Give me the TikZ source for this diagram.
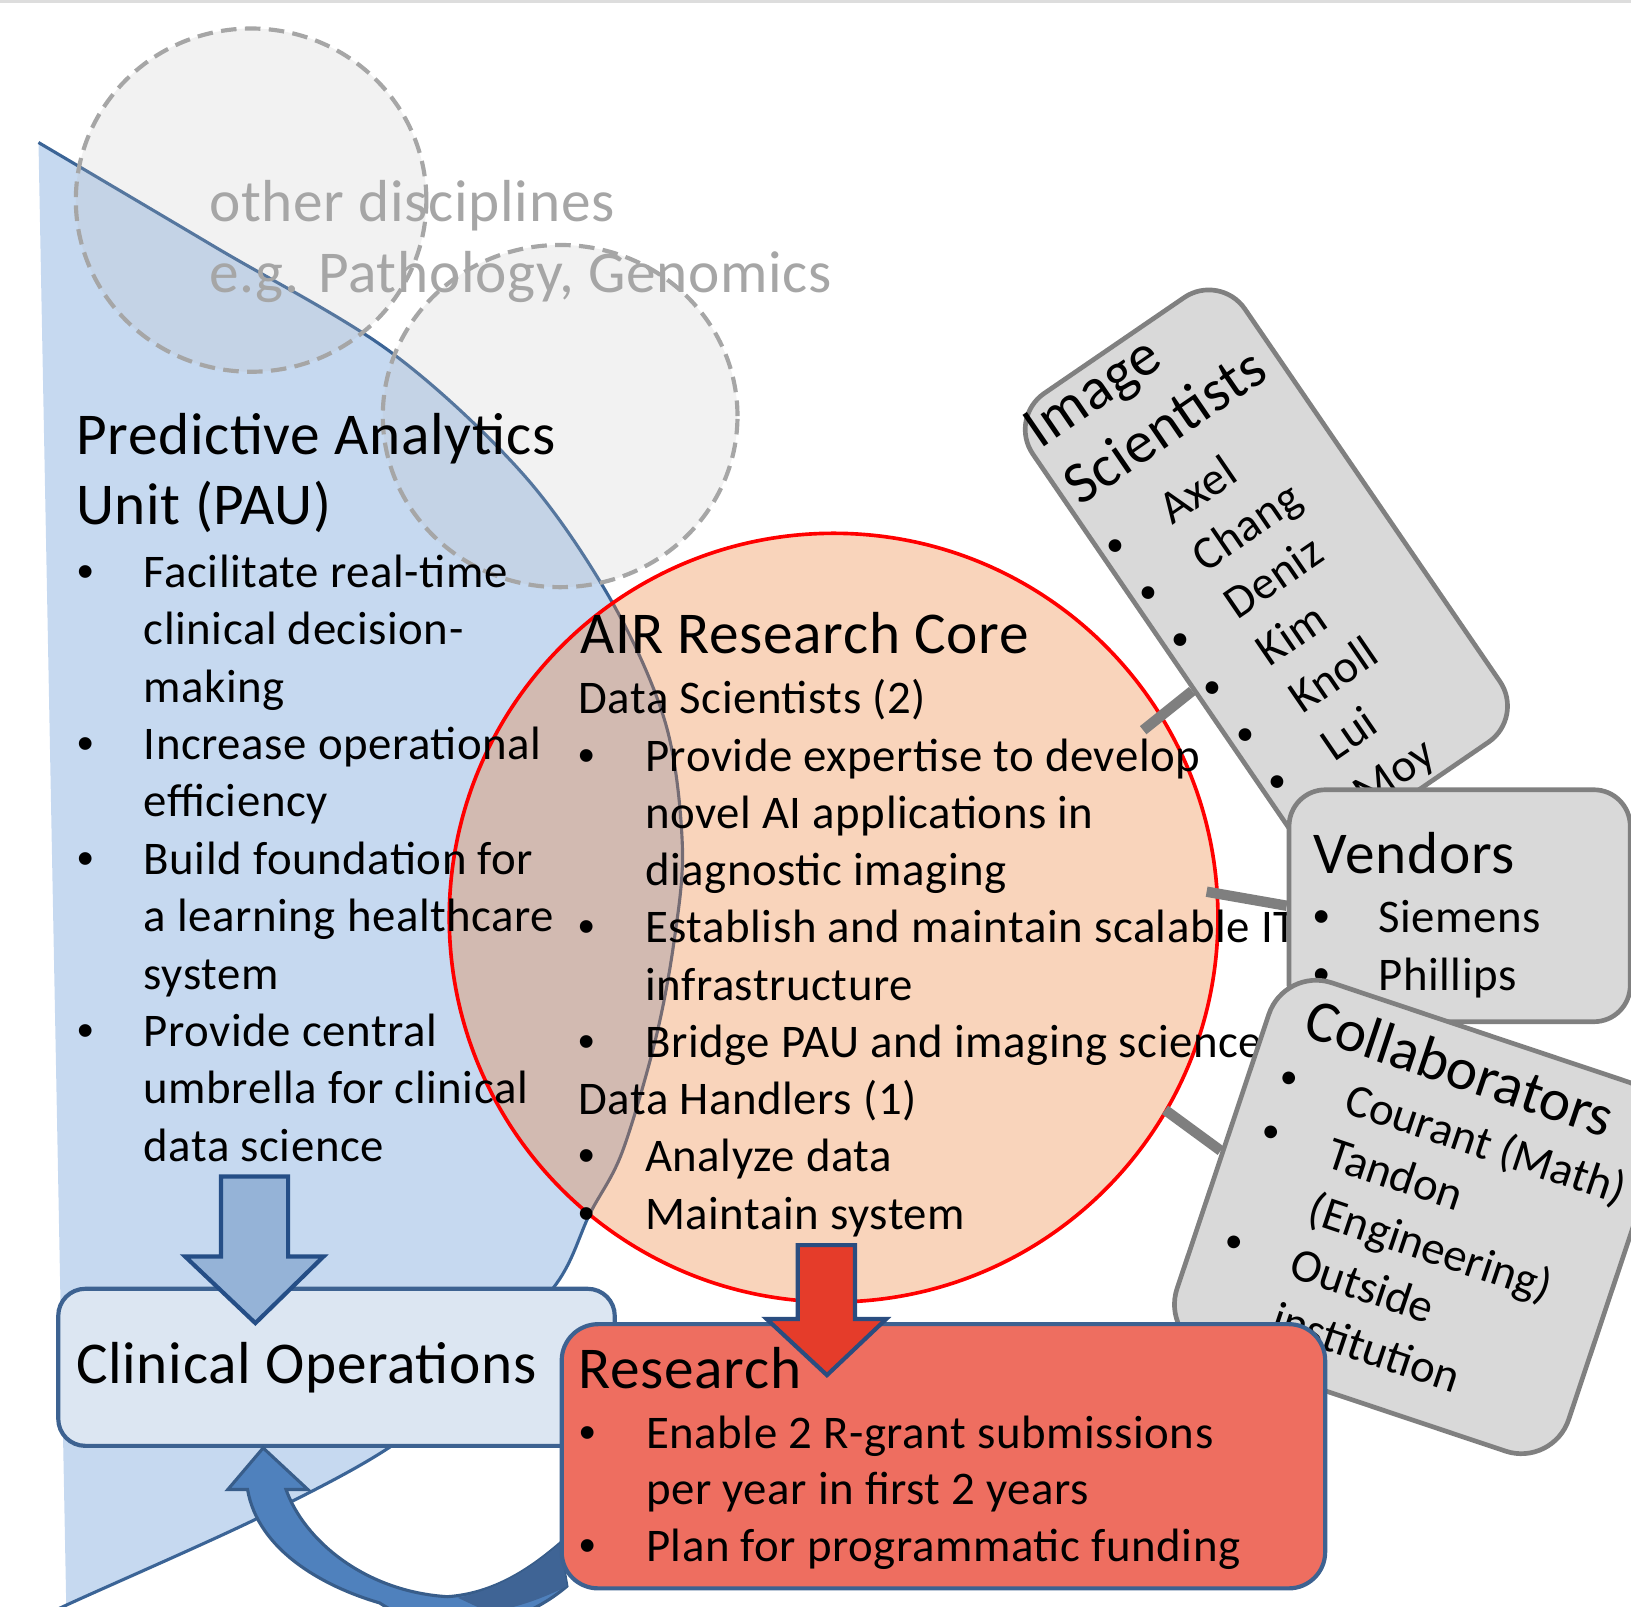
\documentclass[tikz,border=0pt]{standalone}
\usepackage{fontspec}
\setmainfont{Carlito}[LetterSpace=1.2]
\newfontfamily\plainfont{Carlito}
\newfontfamily\bulfont{Liberation Sans}
\usetikzlibrary{calc,shapes.geometric}
\definecolor{paufill}{HTML}{C6D9F0}
\definecolor{pauline}{HTML}{3B6496}
\definecolor{ocfill}{HTML}{BFBFBF}
\definecolor{ocline}{HTML}{A6A6A6}
\definecolor{airfill}{HTML}{ED7D31}
\definecolor{airline}{HTML}{FF0000}
\definecolor{lnk}{HTML}{7F7F7F}
\definecolor{gboxfill}{HTML}{D9D9D9}
\definecolor{gboxline}{HTML}{808080}
\definecolor{clinfill}{HTML}{DCE6F2}
\definecolor{navyline}{HTML}{3D6291}
\definecolor{resfill}{HTML}{EE6E60}
\definecolor{barrowfill}{HTML}{95B3D7}
\definecolor{barrowline}{HTML}{254E86}
\definecolor{rarrowfill}{HTML}{E53C2A}
\definecolor{rarrowline}{HTML}{2A4D80}
\definecolor{carrowfill}{HTML}{4F81BD}
\definecolor{carrowline}{HTML}{385D8A}
\definecolor{carrowdark}{HTML}{3F6495}
\definecolor{topstrip}{HTML}{DDDDDD}
\begin{document}
\begin{tikzpicture}[x=1pt,y=-1pt,
  ttl/.style={font=\fontsize{57pt}{69pt}\selectfont, anchor=base west, inner sep=0pt},
  bdy/.style={font=\fontsize{45pt}{55pt}\selectfont, anchor=base west, inner sep=0pt},
  ttlp/.style={font={\plainfont\fontsize{57pt}{69pt}\selectfont}, anchor=base west, inner sep=0pt},
  bdyp/.style={font={\plainfont\fontsize{45pt}{55pt}\selectfont}, anchor=base west, inner sep=0pt},
  bul/.style={font={\bulfont\fontsize{45pt}{55pt}\selectfont}, anchor=base, inner sep=0pt},
  graytxt/.style={ttl, text=ocline},
  othercirc/.style={ellipse, draw=ocline, line width=4pt, dash pattern=on 15pt off 8pt, fill=ocfill, fill opacity=0.2, inner sep=0pt},
  aircore/.style={circle, draw=airline, line width=3.5pt, fill=airfill, fill opacity=0.33, inner sep=0pt},
  graybox/.style={rectangle, draw=gboxline, fill=gboxfill, line width=4.5pt, inner sep=0pt},
  clinbox/.style={rectangle, draw=navyline, fill=clinfill, line width=4pt, rounded corners=26pt, inner sep=0pt},
  resbox/.style={rectangle, draw=navyline, fill=resfill, line width=4pt, rounded corners=35pt, inner sep=0pt},
  linkbar/.style={draw=lnk, line width=10pt},
  bluearrow/.style={draw=barrowline, fill=barrowfill, line width=4pt, line join=miter},
  redarrow/.style={draw=rarrowline, fill=rarrowfill, line width=4pt, line join=miter},
  curvearrow/.style={draw=carrowline, fill=carrowfill, line width=3pt},
]
\useasboundingbox (0,0) rectangle (1568,1544);
\clip (0,0) rectangle (1568,1544);
\fill[topstrip] (0,0) rectangle (1568,2.5);

% PAU shape
\fill[paufill] (64,1560) -- (37,137) -- plot[smooth, tension=0.55] coordinates {(37,137) (206,237) (375,338) (503,456) (588,578) (640,696) (656,813) (648,905) (630,1000) (598,1108) (567,1167) (535,1234) (460,1315) (378,1389) (249,1459) (64,1543) (40,1556)} -- cycle;
\draw[pauline, line width=3pt] plot[smooth, tension=0.55] coordinates {(37,137) (206,237) (375,338) (503,456) (588,578) (640,696) (656,813) (648,905) (630,1000) (598,1108) (567,1167) (535,1234) (460,1315) (378,1389) (249,1459) (64,1543) (40,1556)};

% other disciplines circles
\node[othercirc, minimum width=337pt, minimum height=330pt] (oc1) at (241.4,192.4) {};
\node[othercirc, minimum width=341pt, minimum height=329pt] (oc2) at (538.5,400) {};
\node[graytxt] (oth1) at (201,213) {other disciplines};
\node[graytxt] (oth2) at (201,281.3) {e.g. Pathology, Genomics};

% AIR research core
\node[aircore, minimum size=739pt] (air) at (801.4,882.2) {};

% PAU text
\node[ttl] (pauT1) at (73,437) {Predictive Analytics};
\node[ttl] (pauT2) at (73,504) {Unit (PAU)};
\foreach \t [count=\i from 0] in {Facilitate real-time, clinical decision-, making, Increase operational, efficiency, Build foundation for, a learning healthcare, system, Provide central, umbrella for clinical, data science}
  \node[bdy] (pau-\i) at (138,{564.5+55.2*\i}) {\t};
\foreach \k in {0,3,5,8}
  \node[bul] (paub-\k) at (82,{564.5+55.2*\k}) {\textbullet};

% AIR text
\node[ttl] (airT) at (558,628.4) {AIR Research Core};
\foreach \x/\t [count=\i from 0] in {556/Data Scientists (2), 620/Provide expertise to develop, 620/novel AI applications in, 620/diagnostic imaging, 620/Establish and maintain scalable IT, 620/infrastructure, 620/Bridge PAU and imaging science, 556/Data Handlers (1), 620/Analyze data, 620/Maintain system}
  \node[bdy] (air-\i) at (\x,{686.3+55.05*\i}) {\t};
\foreach \k in {1,4,6,8,9}
  \node[bul] (airb-\k) at (564.5,{686.3+55.05*\k}) {\textbullet};

% Image Scientists
\begin{scope}[shift={(966.1,401.3)}, rotate=34.4, transform shape]
  \node[graybox, rounded corners=42pt, minimum width=247pt, minimum height=518pt, anchor=north west] (isb) at (0,0) {};
  \node[ttl] (isT1) at (11,45) {Image};
  \node[ttl] (isT2) at (11,112) {Scientists};
  \foreach \t [count=\i from 0] in {Axel,Chang,Deniz,Kim,Knoll,Lui,Moy} {
    \node[bul] (isbul-\i) at (18,{177+55.1*\i}) {\textbullet};
    \node[bdy] (isn-\i) at (74,{177+55.1*\i}) {\t};
  }
\end{scope}

% Vendors
\node[graybox, rounded corners=35pt, minimum width=328pt, minimum height=223pt, anchor=north west] (vend) at (1237,757) {};
\node[ttl] (vendT) at (1263,839.5) {Vendors};
\node[bul] (vb1) at (1270.6,896) {\textbullet};
\node[bul] (vb2) at (1270.6,952) {\textbullet};
\node[bdy] (v1) at (1325,896) {Siemens};
\node[bdy] (v2) at (1325,952) {Phillips};

% Collaborators
\begin{scope}[shift={(1233.6,926.8)}, rotate=-18.5, transform shape]
  \node[graybox, rounded corners=48pt, minimum width=397pt, minimum height=374pt, anchor=north west] (colb) at (0,0) {};
  \node[ttlp] (colT) at (38,60) {Collaborators};
  \node[bul] (cb1) at (40.4,117) {\textbullet};
  \node[bul] (cb2) at (40.4,172.5) {\textbullet};
  \node[bul] (cb3) at (40.4,283.5) {\textbullet};
  \node[bdyp] (c1) at (99,117) {Courant (Math)};
  \node[bdyp] (c2) at (99,172.5) {Tandon};
  \node[bdyp] (c3) at (99,228) {(Engineering)};
  \node[bdyp] (c4) at (99,283.5) {Outside};
  \node[bdyp] (c5) at (99,339) {institution};
\end{scope}

% links from core
\coordinate (lnkA) at (1099,702);
\coordinate (lnkC) at (1120,1067);
\draw[linkbar] (lnkA) -- ($(isb.north west)!0.61!(isb.south west)$);
\draw[linkbar] (vend.west) -- ++(-77,-13.5);
\draw[linkbar] (lnkC) -- (colb.west);

% Clinical Operations
\node[clinbox, minimum width=535pt, minimum height=151pt, anchor=north west] (clin) at (54,1237) {};
\node[ttl] (clinT) at (73,1330) {Clinical Operations};

% PAU -> Clinical arrow
\draw[bluearrow] (212.5,1131) -- (277,1131) -- (277,1208) -- (311,1208) -- (245.5,1272) -- (178,1208) -- (212.5,1208) -- cycle;

% Research -> Clinical curved arrow
\draw[curvearrow] (219,1432) -- (253,1392) -- (296,1432) -- (275,1432)
  .. controls (292,1480) and (350,1530) .. (430,1535)
  .. controls (475,1532) and (510,1508) .. (538,1484)
  -- (545,1525)
  .. controls (480,1580) and (400,1565) .. (365,1541)
  .. controls (310,1525) and (248,1490) .. (238,1432) -- cycle;
\fill[carrowdark] (538,1484) .. controls (515,1505) and (480,1528) .. (440,1536) -- (470,1550) .. controls (500,1545) and (525,1535) .. (545,1525) -- cycle;

% Research
\node[resbox, minimum width=734pt, minimum height=254pt, anchor=north west] (res) at (538,1271) {};
\node[ttl] (resT) at (556,1334.6) {Research};
\node[bul] (rb1) at (564.6,1392.3) {\textbullet};
\node[bul] (rb2) at (564.6,1501.3) {\textbullet};
\node[bdy] (r1) at (621,1392.3) {Enable 2 R-grant submissions};
\node[bdy] (r2) at (621,1446.8) {per year in first 2 years};
\node[bdy] (r3) at (621,1501.3) {Plan for programmatic funding};

% Core -> Research arrow
\draw[redarrow] (767,1197) -- (822,1197) -- (822,1268) -- (852,1268) -- (795,1322) -- (737,1268) -- (767,1268) -- cycle;
\end{tikzpicture}
\end{document}
